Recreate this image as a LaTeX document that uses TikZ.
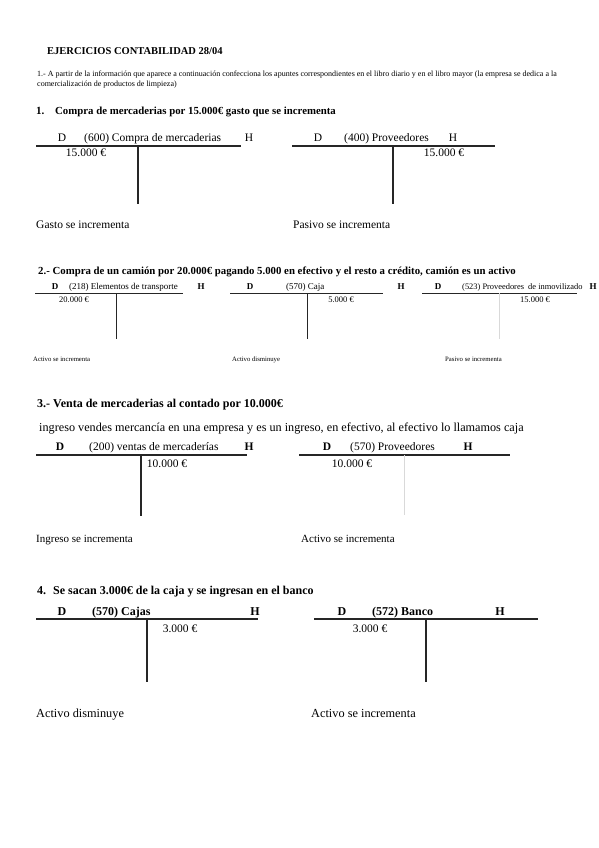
\documentclass[tikz,border=0pt]{standalone}
\usepackage{fontspec}
\setmainfont{Liberation Serif}
\newcommand{\fsz}[1]{\fontsize{#1}{#1}\selectfont}
\begin{document}
\begin{tikzpicture}[x=1pt,y=-1pt,
  t/.style={anchor=mid west,inner sep=0pt},
  c/.style={anchor=mid,inner sep=0pt},
  tl/.style={line width=1.1pt,draw=black!85},
  tls/.style={line width=0.9pt,draw=black!85},
  gl/.style={line width=0.8pt,draw=black!15},
]
\fill[white] (0,0) rectangle (599,848);
\useasboundingbox (0,0) rectangle (599,848);

% ---------- header
\node[t,font=\bfseries\fsz{10.5}] (title) at (47,52) {EJERCICIOS CONTABILIDAD 28/04};
\node[t,font=\fsz{8}] (ins1) at (37,74) {1.- A partir de la información que aparece a continuación confecciona los apuntes correspondientes en el libro diario y en el libro mayor (la empresa se dedica a la};
\node[t,font=\fsz{8}] (ins2) at (37,84) {comercialización de productos de limpieza)};

% ---------- 1
\node[t,font=\bfseries\fsz{11}] (h1n) at (36,112) {1.};
\node[t,font=\bfseries\fsz{10.8}] (h1) at (55,112) {Compra de mercaderias por 15.000€ gasto que se incrementa};

\node[c,font=\fsz{11.5}] (a1d) at (62,139) {D};
\node[t,font=\fsz{11.5}] (a1t) at (84,139) {(600) Compra de mercaderias};
\node[c,font=\fsz{11.5}] (a1h) at (249,139) {H};
\coordinate (a1l) at (36,146); \coordinate (a1r) at (241,146);
\coordinate (a1u) at (138,146); \coordinate (a1b) at (138,204);
\draw[tl] (a1l) -- (a1r); \draw[tl] (a1u) -- (a1b);
\node[c,font=\fsz{11.5}] (a1v) at (86,154) {15.000 €};
\node[t,font=\fsz{11.5}] (a1x) at (36,226) {Gasto se incrementa};

\node[c,font=\fsz{11.5}] (b1d) at (318,139) {D};
\node[t,font=\fsz{11.5}] (b1t) at (344,139) {(400) Proveedores};
\node[c,font=\fsz{11.5}] (b1h) at (453,139) {H};
\coordinate (b1l) at (292,146); \coordinate (b1r) at (495,146);
\coordinate (b1u) at (393,146); \coordinate (b1b) at (393,204);
\draw[tl] (b1l) -- (b1r); \draw[tl] (b1u) -- (b1b);
\node[c,font=\fsz{11.5}] (b1v) at (444,154) {15.000 €};
\node[t,font=\fsz{11.5}] (b1x) at (293,226) {Pasivo se incrementa};

% ---------- 2
\node[t,font=\bfseries\fsz{10.8}] (h2) at (38,272) {2.- Compra de un camión por 20.000€ pagando 5.000 en efectivo y el resto a crédito, camión es un activo};

\node[c,font=\bfseries\fsz{9}] (a2d) at (55,287) {D};
\node[t,font=\fsz{9}] (a2t) at (69,287) {(218) Elementos de transporte};
\node[c,font=\bfseries\fsz{9}] (a2h) at (201,287) {H};
\coordinate (a2l) at (35,293); \coordinate (a2r) at (183,293);
\coordinate (a2u) at (116,293); \coordinate (a2b) at (116,339);
\draw[tls] (a2l) -- (a2r); \draw[tls] (a2u) -- (a2b);
\node[c,font=\fsz{8.5}] (a2v) at (74,300) {20.000 €};
\node[t,font=\fsz{6.7}] (a2x) at (33,359) {Activo se incrementa};

\node[c,font=\bfseries\fsz{9}] (b2d) at (250,287) {D};
\node[t,font=\fsz{9}] (b2t) at (286,287) {(570) Caja};
\node[c,font=\bfseries\fsz{9}] (b2h) at (401,287) {H};
\coordinate (b2l) at (230,293); \coordinate (b2r) at (383,293);
\coordinate (b2u) at (307,293); \coordinate (b2b) at (307,339);
\draw[tls] (b2l) -- (b2r); \draw[tls] (b2u) -- (b2b);
\node[c,font=\fsz{8.5}] (b2v) at (341,300) {5.000 €};
\node[t,font=\fsz{6.7}] (b2x) at (232,359) {Activo disminuye};

\node[c,font=\bfseries\fsz{9}] (c2d) at (438,287) {D};
\node[t,font=\fsz{8.4}] (c2t) at (462,287) {(523) Proveedores\ \ de inmovilizado};
\node[c,font=\bfseries\fsz{9}] (c2h) at (593,287) {H};
\coordinate (c2l) at (422,293); \coordinate (c2r) at (577,293);
\coordinate (c2u) at (499,293); \coordinate (c2b) at (499,339);
\draw[tls] (c2l) -- (c2r); \draw[gl] (c2u) -- (c2b);
\node[c,font=\fsz{8.5}] (c2v) at (535,300) {15.000 €};
\node[t,font=\fsz{6.7}] (c2x) at (445,359) {Pasivo se incrementa};

% ---------- 3
\node[t,font=\bfseries\fsz{12}] (h3) at (37,405) {3.- Venta de mercaderias al contado por 10.000€};
\node[t,font=\fsz{12.2}] (s3) at (39,429) {ingreso vendes mercancía en una empresa y es un ingreso, en efectivo, al efectivo lo llamamos caja};

\node[c,font=\bfseries\fsz{11.5}] (a3d) at (60,448) {D};
\node[t,font=\fsz{11.5}] (a3t) at (89,448) {(200) ventas de mercaderías};
\node[c,font=\bfseries\fsz{11.5}] (a3h) at (249,448) {H};
\coordinate (a3l) at (36,455); \coordinate (a3r) at (247,455);
\coordinate (a3u) at (141,455); \coordinate (a3b) at (141,516);
\draw[tl] (a3l) -- (a3r); \draw[tl] (a3u) -- (a3b);
\node[c,font=\fsz{11.5}] (a3v) at (167,465) {10.000 €};
\node[t,font=\fsz{11}] (a3x) at (36,540) {Ingreso se incrementa};

\node[c,font=\bfseries\fsz{11.5}] (b3d) at (327,448) {D};
\node[t,font=\fsz{11.5}] (b3t) at (350,448) {(570) Proveedores};
\node[c,font=\bfseries\fsz{11.5}] (b3h) at (468,448) {H};
\coordinate (b3l) at (299,455); \coordinate (b3r) at (510,455);
\coordinate (b3u) at (404,455); \coordinate (b3b) at (404,515);
\draw[tl] (b3l) -- (b3r); \draw[gl] (b3u) -- (b3b);
\node[c,font=\fsz{11.5}] (b3v) at (352,465) {10.000 €};
\node[t,font=\fsz{11}] (b3x) at (301,540) {Activo se incrementa};

% ---------- 4
\node[t,font=\bfseries\fsz{12}] (h4n) at (37,592) {4.};
\node[t,font=\bfseries\fsz{12}] (h4) at (53,592) {Se sacan 3.000€ de la caja y se ingresan en el banco};

\node[c,font=\bfseries\fsz{12}] (a4d) at (62,613) {D};
\node[t,font=\bfseries\fsz{12}] (a4t) at (92,613) {(570) Cajas};
\node[c,font=\bfseries\fsz{12}] (a4h) at (255,613) {H};
\coordinate (a4l) at (36,619); \coordinate (a4r) at (258,619);
\coordinate (a4u) at (147,619); \coordinate (a4b) at (147,682);
\draw[tl] (a4l) -- (a4r); \draw[tl] (a4u) -- (a4b);
\node[c,font=\fsz{11.5}] (a4v) at (180,630) {3.000 €};
\node[t,font=\fsz{12.3}] (a4x) at (36,715) {Activo disminuye};

\node[c,font=\bfseries\fsz{12}] (b4d) at (342,613) {D};
\node[t,font=\bfseries\fsz{12}] (b4t) at (372,613) {(572) Banco};
\node[c,font=\bfseries\fsz{12}] (b4h) at (500,613) {H};
\coordinate (b4l) at (314,619); \coordinate (b4r) at (538,619);
\coordinate (b4u) at (426,619); \coordinate (b4b) at (426,682);
\draw[tl] (b4l) -- (b4r); \draw[tl] (b4u) -- (b4b);
\node[c,font=\fsz{11.5}] (b4v) at (370,630) {3.000 €};
\node[t,font=\fsz{12.3}] (b4x) at (311,715) {Activo se incrementa};
\end{tikzpicture}
\end{document}
